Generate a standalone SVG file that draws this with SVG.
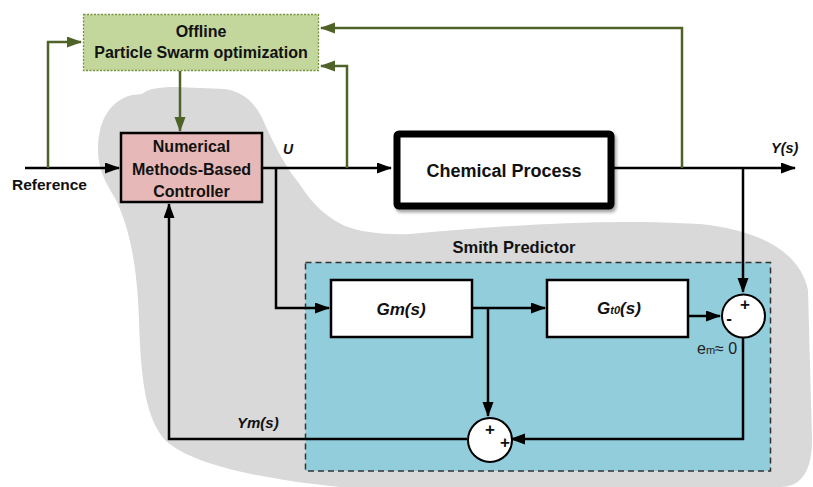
<svg xmlns="http://www.w3.org/2000/svg" width="813" height="487" viewBox="0 0 813 487">
<defs>
<style>
.t{font-family:"Liberation Sans",Arial,sans-serif;font-weight:bold;fill:#111;text-anchor:middle}
.it{font-family:"Liberation Sans",Arial,sans-serif;font-weight:bold;font-style:italic;fill:#111}
.blk{fill:none;stroke:#000;stroke-width:2.5}
.grn{fill:none;stroke:#4f6228;stroke-width:2.5}
.box{fill:#fff;stroke:#000;stroke-width:2.5}
</style>
<marker id="ab" markerUnits="userSpaceOnUse" markerWidth="15" markerHeight="12" refX="14" refY="5.5" orient="auto"><path d="M0,0 L15,5.5 L0,11 Z" fill="#000"/></marker>
<marker id="ag" markerUnits="userSpaceOnUse" markerWidth="15" markerHeight="12" refX="14" refY="5.5" orient="auto"><path d="M0,0 L15,5.5 L0,11 Z" fill="#4f6228"/></marker>
<filter id="sh" x="-10%" y="-10%" width="130%" height="140%"><feDropShadow dx="2" dy="3" stdDeviation="1.5" flood-color="#000" flood-opacity="0.35"/></filter>
</defs>
<path id="blob" d="M98,150 C98,118 112,100 132,95 L142,94 C148,89 158,87 175,87 L225,89 C244,92 256,104 263,120 C272,140 284,165 298,182 C310,200 322,215 345,226 C360,232 385,235 410,234 C500,226 600,218 700,224 C760,230 800,252 808,290 L812,440 C812,470 802,487 780,487 L340,487 C250,478 188,462 165,440 C148,420 141,390 139,320 C137,260 128,225 116,200 C104,180 98,168 98,150 Z" fill="#d9d9d9"/>
<g id="smith">
<rect x="305.5" y="262.5" width="465" height="208.5" fill="#92cddc" stroke="#333" stroke-width="1.5" stroke-dasharray="6,4"/>
<text class="t" x="514" y="253" font-size="16.5">Smith Predictor</text>
</g>
<g id="connectors">
<path class="blk" d="M25,168 H119" marker-end="url(#ab)"/>
<path class="blk" d="M262,168 H391" marker-end="url(#ab)"/>
<path class="blk" d="M276,168 V308 H329" marker-end="url(#ab)"/>
<path class="blk" d="M614,168 H795" marker-end="url(#ab)"/>
<path class="blk" d="M743,168 V292" marker-end="url(#ab)"/>
<path class="blk" d="M472,308 H545" marker-end="url(#ab)"/>
<path class="blk" d="M488,308 V416" marker-end="url(#ab)"/>
<path class="blk" d="M688,316 H720" marker-end="url(#ab)"/>
<path class="blk" d="M743,338 V439 H511" marker-end="url(#ab)"/>
<path class="blk" d="M467,439 H169 V204" marker-end="url(#ab)"/>
<path class="grn" d="M48,168 V42 H81" marker-end="url(#ag)"/>
<path class="grn" d="M682,168 V28 H321" marker-end="url(#ag)"/>
<path class="grn" d="M347,168 V66 H321" marker-end="url(#ag)"/>
<path class="grn" d="M180,71 V131" marker-end="url(#ag)"/>
</g>
<g id="pso">
<rect x="83.5" y="14.5" width="235" height="56" fill="#c3d69b" stroke="#77933c" stroke-width="1.3" stroke-dasharray="2,1.5"/>
<text class="t" x="201" y="37" font-size="16">Offline</text>
<text class="t" x="201" y="58" font-size="16">Particle Swarm optimization</text>
</g>
<g id="controller">
<rect x="121" y="133" width="141" height="69" fill="#e6b9b8" stroke="#000" stroke-width="2.5"/>
<text class="t" x="191.5" y="152" font-size="16">Numerical</text>
<text class="t" x="191.5" y="175" font-size="16">Methods-Based</text>
<text class="t" x="191.5" y="197" font-size="16">Controller</text>
</g>
<g id="process">
<rect x="397" y="134" width="214" height="72" rx="2" fill="#fff" stroke="#000" stroke-width="7" filter="url(#sh)"/>
<text class="t" x="504" y="177" font-size="18">Chemical Process</text>
</g>
<g id="gm">
<rect class="box" x="331" y="280" width="141" height="57"/>
<text class="it" x="401" y="315" font-size="17" text-anchor="middle">Gm(s)</text>
</g>
<g id="gt0">
<rect class="box" x="547" y="280" width="141" height="57"/>
<text class="it" x="597" y="314" font-size="17">G<tspan font-size="11">t0</tspan>(s)</text>
</g>
<g id="sum1">
<circle cx="743.5" cy="316" r="21.5" fill="#fff" stroke="#000" stroke-width="2"/>
<text class="t" x="745" y="310" font-size="17">+</text>
<text class="t" x="729" y="324" font-size="17">-</text>
</g>
<g id="sum2">
<circle cx="490" cy="440" r="22" fill="#fff" stroke="#000" stroke-width="2"/>
<text class="t" x="490" y="435" font-size="17">+</text>
<text class="t" x="505" y="448" font-size="17">+</text>
</g>
<g id="labels">
<text class="t" x="49.5" y="190" font-size="15.5">Reference</text>
<text class="it" x="283" y="154" font-size="14">U</text>
<text class="it" x="771" y="153" font-size="14.5">Y(s)</text>
<text class="it" x="237" y="428" font-size="15">Ym(s)</text>
<text x="697" y="354" font-family="Liberation Sans,Arial,sans-serif" font-size="16" fill="#222">e<tspan font-size="11">m</tspan>≈ 0</text>
</g>
</svg>
